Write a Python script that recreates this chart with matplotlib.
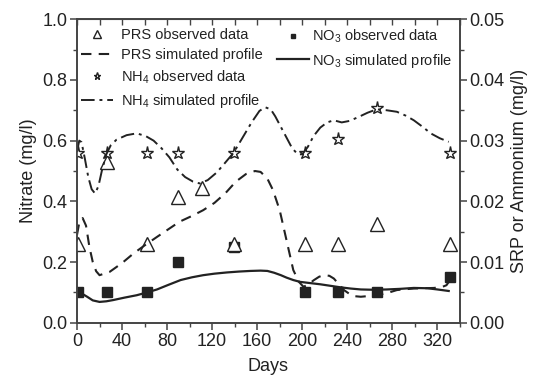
import matplotlib

matplotlib.use("Agg")
import matplotlib.pyplot as plt
from matplotlib.ticker import MultipleLocator

plt.rcParams["font.family"] = ["Liberation Sans", "DejaVu Sans"]
plt.rcParams["mathtext.fontset"] = "custom"
plt.rcParams["mathtext.rm"] = "Liberation Sans"
plt.rcParams["mathtext.it"] = "Liberation Sans:italic"

# --- observed data ---------------------------------------------------------
obs_days = [1, 27, 62, 90, 139, 202, 232, 266, 331]
no3_obs = [0.10, 0.10, 0.10, 0.20, 0.25, 0.10, 0.10, 0.10, 0.15]  # left axis
nh4_obs = [0.028, 0.028, 0.028, 0.028, 0.028, 0.028, 0.0302, 0.0354, 0.028]  # right axis
prs_days = [1, 27, 62, 90, 111, 139, 202, 232, 266, 331]
prs_obs = [0.013, 0.0265, 0.013, 0.0207, 0.0222, 0.013, 0.013, 0.013, 0.0163, 0.013]

# --- simulated profiles ------------------------------------------------------
no3_sim_days = [0, 4, 9, 14, 20, 26, 32, 42, 53, 62, 71, 81, 92, 102, 112, 122,
                133, 144, 154, 163, 169, 175, 181, 186, 192, 198, 207, 216, 225,
                234, 243, 252, 263, 275, 287, 299, 311, 320, 330]
no3_sim = [0.103, 0.097, 0.086, 0.074, 0.069, 0.071, 0.075, 0.083, 0.091, 0.100,
           0.110, 0.125, 0.141, 0.150, 0.157, 0.162, 0.166, 0.169, 0.171, 0.172,
           0.171, 0.165, 0.157, 0.149, 0.141, 0.135, 0.131, 0.127, 0.122, 0.117,
           0.113, 0.110, 0.109, 0.110, 0.112, 0.115, 0.114, 0.110, 0.105]

prs_sim_days = [0, 2, 5, 8, 11, 14, 17, 20, 29, 40, 50, 60, 71, 81, 91, 102, 112,
                122, 132, 141, 150, 158, 163, 169, 174, 180, 186, 192, 197, 201,
                205, 210, 215, 219, 224, 228, 233, 237, 242, 246, 252, 258, 264,
                270, 277, 284, 292, 299, 308, 317, 324, 328, 331]
prs_sim = [0.0145, 0.0165, 0.01725, 0.016, 0.0125, 0.010, 0.0085, 0.00785,
           0.0084, 0.00985, 0.0114, 0.01275, 0.01415, 0.0154, 0.01665, 0.0176,
           0.01855, 0.01975, 0.0214, 0.02325, 0.0245, 0.025, 0.02485, 0.02375,
           0.02185, 0.0185, 0.0136, 0.0087, 0.00675, 0.00595, 0.00625, 0.007,
           0.0076, 0.00785, 0.00775, 0.0073, 0.00625, 0.0054, 0.00475, 0.0044,
           0.0043, 0.0044, 0.00455, 0.0047, 0.005, 0.0054, 0.00555, 0.00565,
           0.0057, 0.00575, 0.0059, 0.0062, 0.007]

nh4_sim_days = [0, 2, 4, 7, 10, 13, 16, 19, 22, 26, 30, 35, 44, 53, 61, 68, 75,
                82, 89, 96, 103, 109, 116, 124, 131, 139, 147, 155, 162, 167, 172,
                176, 181, 186, 191, 196, 200, 205, 210, 216, 222, 228, 235, 242,
                250, 258, 266, 275, 284, 292, 299, 307, 314, 322, 330]
nh4_sim = [0.02825, 0.030, 0.02975, 0.027, 0.024, 0.022, 0.0213, 0.0225, 0.025,
           0.02775, 0.02925, 0.03015, 0.0309, 0.0312, 0.03075, 0.030, 0.02875,
           0.02725, 0.02525, 0.024, 0.02325, 0.02295, 0.0235, 0.02475, 0.02625,
           0.028, 0.0305, 0.033, 0.0349, 0.0355, 0.03515, 0.034, 0.03225, 0.0305,
           0.02875, 0.02775, 0.02775, 0.029, 0.03075, 0.03215, 0.033, 0.03335,
           0.033, 0.03325, 0.0339, 0.0346, 0.03515, 0.035, 0.03475, 0.0341,
           0.03335, 0.03225, 0.0312, 0.0304, 0.0298]

INK = "#222222"
SPINE = "#444444"
FS = 13

fig = plt.figure(figsize=(5.33, 3.83), dpi=100)
ax = fig.add_axes([0.1445, 0.157, 0.7185, 0.793])
ax2 = ax.twinx()

# left axis: nitrate
l_no3_obs, = ax.plot(obs_days, no3_obs, ls="none", marker="s", ms=6.5,
                     color=INK, label="NO$_3$ observed data")
l_no3_sim, = ax.plot(no3_sim_days, no3_sim, color=INK, lw=1.6,
                     label="NO$_3$ simulated profile")

# right axis: SRP (PRS) and ammonium
l_prs_obs, = ax2.plot(prs_days, prs_obs, ls="none", marker="^", ms=9.5,
                      mfc="white", mec=INK, mew=1.0, label="PRS observed data")
l_prs_sim, = ax2.plot(prs_sim_days, prs_sim, color=INK, lw=1.5,
                      ls=(0, (5, 3.5)), label="PRS simulated profile")
l_nh4_obs, = ax2.plot(obs_days, nh4_obs, ls="none", marker="*", ms=9.5,
                      mfc="white", mec=INK, mew=1.0, label="NH$_4$ observed data")
l_nh4_sim, = ax2.plot(nh4_sim_days, nh4_sim, color=INK, lw=1.4,
                      ls=(0, (7, 2.5, 1.5, 2.5)), label="NH$_4$ simulated profile")

ax.set_xlim(0, 340)
ax.set_ylim(0, 1.0)
ax2.set_ylim(0, 0.05)

ax.xaxis.set_major_locator(MultipleLocator(40))
ax.xaxis.set_minor_locator(MultipleLocator(20))
ax.yaxis.set_major_locator(MultipleLocator(0.2))
ax.yaxis.set_minor_locator(MultipleLocator(0.1))
ax2.yaxis.set_major_locator(MultipleLocator(0.01))
ax2.yaxis.set_minor_locator(MultipleLocator(0.005))
ax.yaxis.set_major_formatter(lambda v, p: f"{v:.1f}")
ax2.yaxis.set_major_formatter(lambda v, p: f"{v:.2f}")

for a in (ax, ax2):
    for s in a.spines.values():
        s.set_color(SPINE)
        s.set_linewidth(1.2)
    a.tick_params(which="both", direction="out", colors=SPINE, labelcolor=INK,
                  labelsize=FS, pad=2)
    a.tick_params(which="major", length=5, width=1.1)
    a.tick_params(which="minor", length=3, width=1.0)

top = ax.secondary_xaxis("top")
top.xaxis.set_major_locator(MultipleLocator(20))
top.tick_params(direction="in", length=4, width=1.0, colors=SPINE, labeltop=False)
top.spines["top"].set_color(SPINE)

ax.set_xlabel("Days", fontsize=FS, color=INK, labelpad=6)
ax.set_ylabel("Nitrate (mg/l)", fontsize=FS, color=INK, labelpad=4)
ax2.set_ylabel("SRP or Ammonium (mg/l)", fontsize=FS, color=INK, labelpad=4)

leg_kw = dict(loc="upper left", frameon=False, fontsize=10.5, handlelength=2.2,
              borderpad=0, borderaxespad=0, labelspacing=0.42, markerscale=0.55)
leg1 = fig.legend(handles=[l_prs_obs, l_prs_sim, l_nh4_obs, l_nh4_sim],
                  bbox_to_anchor=(81 / 533, 1 - 28 / 383), handletextpad=0.55,
                  **leg_kw)
leg2 = fig.legend(handles=[l_no3_obs, l_no3_sim],
                  bbox_to_anchor=(277 / 533, 1 - 28 / 383), handletextpad=0.2,
                  **leg_kw)
for leg in (leg1, leg2):
    for t in leg.get_texts():
        t.set_color(INK)

fig.savefig("out.png", dpi=100)
